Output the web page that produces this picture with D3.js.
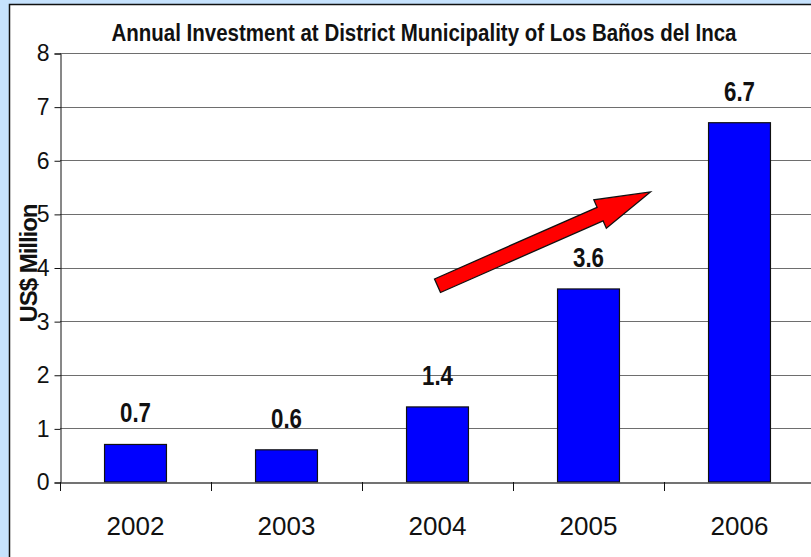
<!DOCTYPE html>
<html>
<head>
<meta charset="utf-8">
<script src="https://cdn.jsdelivr.net/npm/d3@7"></script>
<style>
	body { margin: 0; background: #c6e2fd; }
	svg { display: block; }
	text { font-family: "Liberation Sans Narrow", "Arial Narrow", "Liberation Sans", Arial, sans-serif; }
</style>
</head>
<body>
<div id="chart"></div>
<script>
(function () {

	'use strict';

	// data
	let years = ['2002', '2003', '2004', '2005', '2006'];
	let investment = [0.7, 0.6, 1.4, 3.6, 6.7];
	let yTicks = [0, 1, 2, 3, 4, 5, 6, 7, 8];
	// arrow annotation, in chart units: [category position, value]
	let arrowTail = [2.5, 3.66];
	let arrowTip = [3.91, 5.41];

	let title = 'Annual Investment at District Municipality of Los Baños del Inca';
	let yTitle = 'US$ Million';

	let fontStack = '"Liberation Sans Narrow", "Arial Narrow", "Liberation Sans", Arial, sans-serif';

	// layout
	let W = 811, H = 557;
	let plot = {left: 60, right: 815, top: 53, bottom: 482};

	let svg = d3.select('#chart').append('svg')
		.attr('width', W)
		.attr('height', H);

	// white panel
	svg.append('rect')
		.attr('x', 9.5).attr('y', 4.5)
		.attr('width', W + 20).attr('height', H + 20)
		.attr('fill', '#fff')
		.attr('stroke', '#111')
		.attr('stroke-width', 1.5);

	let x = d3.scaleBand().domain(years).range([plot.left, plot.right]).paddingInner(0).paddingOuter(0);
	let xLin = d3.scaleLinear().domain([0, years.length]).range([plot.left, plot.right]);
	let y = d3.scaleLinear().domain([0, 8]).range([plot.bottom, plot.top]);

	let barW = x.bandwidth() * 0.41;

	// gridlines
	svg.append('g')
		.selectAll('line')
		.data(yTicks.slice(1))
		.join('line')
		.attr('x1', plot.left).attr('x2', W)
		.attr('y1', d => Math.round(y(d)) + 0.5)
		.attr('y2', d => Math.round(y(d)) + 0.5)
		.attr('stroke', '#6e6e6e')
		.attr('stroke-width', 1.2);

	// y axis
	let yAxis = svg.append('g')
		.attr('transform', 'translate(' + (plot.left + 0.5) + ',0.5)')
		.call(d3.axisLeft(y).tickValues(yTicks).tickSize(6).tickPadding(5).tickFormat(d3.format('d')));
	yAxis.select('.domain').attr('stroke', '#111');
	yAxis.selectAll('.tick line').attr('stroke', '#111');
	yAxis.selectAll('text')
		.attr('font-size', 23)
		.attr('fill', '#111')
		.attr('font-family', fontStack);

	// bars
	svg.append('g')
		.selectAll('rect')
		.data(investment)
		.join('rect')
		.attr('x', (d, i) => x(years[i]) + (x.bandwidth() - barW) / 2)
		.attr('y', d => y(d))
		.attr('width', barW)
		.attr('height', d => y(0) - y(d))
		.attr('fill', '#0000ff')
		.attr('stroke', '#111')
		.attr('stroke-width', 1.2);

	// x axis
	let xAxis = svg.append('g')
		.attr('transform', 'translate(0,' + (plot.bottom + 0.5) + ')')
		.call(d3.axisBottom(x).tickSize(0).tickPadding(34));
	xAxis.select('.domain').attr('stroke', '#444').attr('stroke-width', 1.5);
	xAxis.selectAll('text')
		.attr('font-size', 26)
		.attr('fill', '#111')
		.attr('font-family', fontStack);

	// category separator ticks
	svg.append('g')
		.selectAll('line')
		.data(years)
		.join('line')
		.attr('x1', d => Math.round(x(d)) + 0.5)
		.attr('x2', d => Math.round(x(d)) + 0.5)
		.attr('y1', plot.bottom)
		.attr('y2', plot.bottom + 9)
		.attr('stroke', '#111');

	// value labels
	svg.append('g')
		.selectAll('text')
		.data(investment)
		.join('text')
		.attr('x', (d, i) => x(years[i]) + x.bandwidth() / 2)
		.attr('y', d => y(d) - 22)
		.attr('text-anchor', 'middle')
		.attr('font-size', 27)
		.attr('font-weight', 'bold')
		.attr('fill', '#111')
		.attr('textLength', 31)
		.attr('lengthAdjust', 'spacingAndGlyphs')
		.text(d => d3.format('.1f')(d));

	// title
	svg.append('text')
		.attr('x', 424)
		.attr('y', 41)
		.attr('text-anchor', 'middle')
		.attr('font-size', 23)
		.attr('font-weight', 'bold')
		.attr('fill', '#111')
		.attr('textLength', 625)
		.attr('lengthAdjust', 'spacingAndGlyphs')
		.text(title);

	// y title
	svg.append('text')
		.attr('transform', 'translate(37,263) rotate(-90)')
		.attr('text-anchor', 'middle')
		.attr('font-size', 24)
		.attr('font-weight', 'bold')
		.attr('fill', '#111')
		.attr('textLength', 119)
		.attr('lengthAdjust', 'spacing')
		.text(yTitle);

	// arrow annotation
	let tx = xLin(arrowTail[0]), ty = y(arrowTail[1]);
	let hx = xLin(arrowTip[0]), hy = y(arrowTip[1]);
	let len = Math.hypot(hx - tx, hy - ty);
	let ux = (hx - tx) / len, uy = (hy - ty) / len;
	let nx = -uy, ny = ux;
	let shaft = 7.4, head = 15.5, headLen = 55;
	let bx = hx - ux * headLen, by = hy - uy * headLen;
	let pts = [
		[tx + nx * shaft, ty + ny * shaft],
		[bx + nx * shaft, by + ny * shaft],
		[bx + nx * head, by + ny * head],
		[hx, hy],
		[bx - nx * head, by - ny * head],
		[bx - nx * shaft, by - ny * shaft],
		[tx - nx * shaft, ty - ny * shaft]
	];
	svg.append('polygon')
		.attr('points', pts.map(p => p.join(',')).join(' '))
		.attr('fill', '#ff0000')
		.attr('stroke', '#111')
		.attr('stroke-width', 1.3)
		.attr('stroke-linejoin', 'miter');

})();
</script>
</body>
</html>
